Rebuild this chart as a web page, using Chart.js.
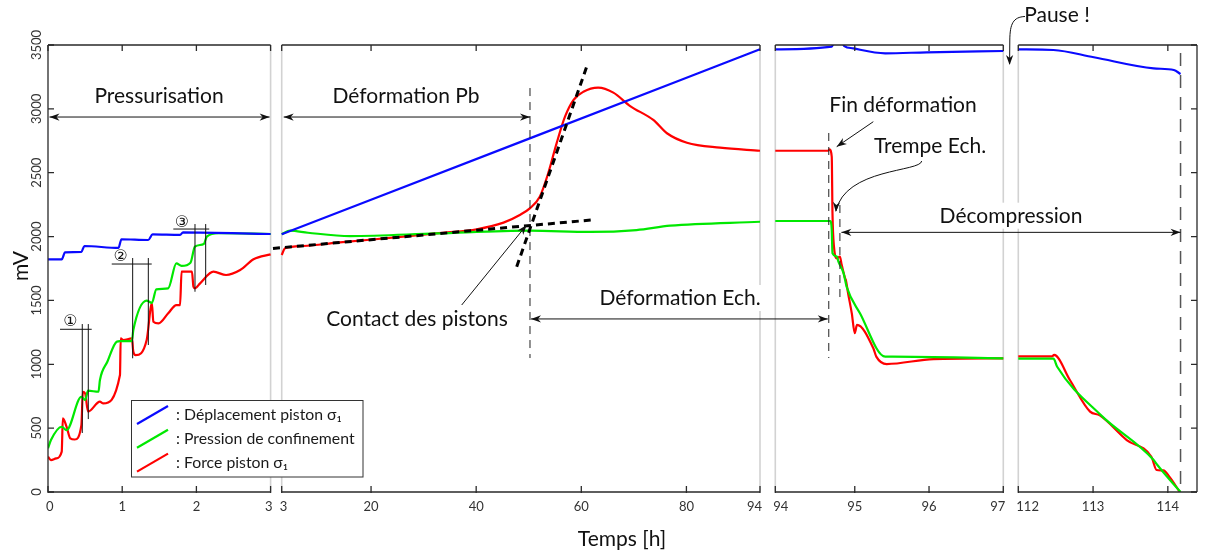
<!DOCTYPE html>
<html>
<head>
<meta charset="utf-8">
<script src="https://cdn.jsdelivr.net/npm/chart.js@4.4.0/dist/chart.umd.min.js"></script>
<style>
  html, body { margin: 0; background: #fff; }
  canvas { display: block; }
</style>
</head>
<body>
<canvas id="graphe" width="1206" height="554"></canvas>
<script>
// axe vertical (mV) et axe du temps coupé en 4 morceaux
const ticksMv = [0, 500, 1000, 1500, 2000, 2500, 3000, 3500];
const bornesHeures = [[0, 3], [3, 94], [93.93, 97], [112, 114.39]];
const ticksHeures = [[0, 1, 2, 3], [3, 20, 40, 60, 80, 94], [93.93, 95, 96, 97], [112, 113, 114]];
const etiquettesHeures = [['0', '1', '2', '3'], ['3', '20', '40', '60', '80', '94'], ['94', '95', '96', '97'], ['112', '113', '114']];

// [temps h, mV], un tableau par morceau
const deplacement = [
  [[0, 1822], [0.185, 1822], [0.23, 1877], [0.45, 1880], [0.49, 1926], [0.95, 1911], [0.99, 1979], [1.35, 1973],
   [1.41, 2017], [1.78, 2013], [1.82, 2033], [3, 2020]],
  [[3, 2018], [50.2, 2769], [94, 3466]],
  [[93.93, 3466], [94.69, 3487], [94.72, 3515], [94.83, 3515], [94.86, 3492], [94.98, 3474], [95.41, 3435],
   [95.97, 3443], [97, 3453]],
  [[112, 3466], [112.47, 3461], [113.01, 3404], [113.81, 3317], [114.08, 3304], [114.17, 3273]]
];
const confinement = [
  [[0, 342], [0.04, 407], [0.185, 511], [0.25, 485], [0.45, 746], [0.5, 720], [0.54, 793], [0.68, 785], [0.7, 877],
   [0.8, 1020], [0.925, 1177], [0.97, 1182], [1.13, 1182], [1.15, 1268], [1.33, 1498], [1.4, 1481], [1.46, 1587],
   [1.62, 1595], [1.73, 1790], [1.8, 1770], [1.92, 1795], [1.98, 1921], [2.1, 1942], [2.14, 1999], [2.3, 2026], [3, 2020]],
  [[3, 2018], [4.6, 2046], [8, 2030], [16, 2004], [32.5, 2025], [50.2, 2046], [61.7, 2036], [70.5, 2051],
   [76.9, 2085], [94, 2116]],
  [[93.93, 2122], [94.67, 2122], [94.69, 2051], [94.70, 1869], [94.76, 1843], [94.78, 1804], [94.85, 1712],
   [94.89, 1608], [95.07, 1399], [95.41, 1060], [95.51, 1060], [97, 1047]],
  [[112, 1044], [112.47, 1044], [112.52, 981], [113.1, 604], [113.81, 251], [113.86, 211], [114.17, 0]]
];
const force = [
  [[0, 276], [0.04, 250], [0.11, 263], [0.185, 316], [0.2, 577], [0.25, 511], [0.3, 420], [0.36, 411], [0.45, 524],
   [0.47, 785], [0.5, 772], [0.54, 629], [0.7, 707], [0.745, 694], [0.97, 916], [0.98, 1203], [1.015, 1190],
   [1.13, 1203], [1.15, 1098], [1.18, 1072], [1.33, 1190], [1.4, 1477], [1.42, 1333], [1.49, 1320], [1.62, 1399],
   [1.73, 1464], [1.78, 1464], [1.8, 1725], [1.94, 1725], [1.96, 1608], [1.98, 1595], [2.05, 1634], [2.23, 1725],
   [2.4, 1699], [2.59, 1738], [2.77, 1822], [3, 1861]],
  [[3, 1856], [3.63, 1908], [7.1, 1926], [13.5, 1952], [26.1, 1999], [33.7, 2030], [40.1, 2057], [45.2, 2109],
   [48.3, 2169], [50.2, 2221], [52.1, 2312], [53.7, 2495], [55.3, 2730], [56.9, 2939], [58.5, 3069], [60.4, 3134],
   [63.2, 3166], [66.1, 3127], [69.3, 3022], [73.7, 2913], [76.3, 2809], [80.1, 2735], [86.4, 2696], [94, 2672]],
  [[93.93, 2672], [94.64, 2672], [94.66, 2682], [94.69, 2625], [94.70, 2182], [94.72, 1921], [94.76, 1830],
   [94.80, 1843], [94.82, 1790], [94.87, 1673], [94.88, 1660], [94.91, 1556], [94.96, 1399], [95.0, 1243],
   [95.03, 1308], [95.25, 1125], [95.29, 1060], [95.43, 1002], [96.06, 1041], [97, 1047]],
  [[112, 1062], [112.45, 1062], [112.48, 1073], [112.69, 877], [112.96, 629], [113.09, 600], [113.45, 407],
   [113.78, 276], [113.85, 172], [113.94, 169], [114.02, 120], [114.16, 0]]
];

// position horizontale de chaque morceau (en px depuis le bord gauche du graphe)
const debuts = [0, 233.7, 727.3, 970.3];
const largeurs = [222.6, 478.3, 228, 178.7];
const FONT = 'Lato, "Open Sans", sans-serif';

function versV(p, h) {
  const [a, b] = bornesHeures[p];
  return debuts[p] + (h - a) / (b - a) * largeurs[p];
}

function serie(morceaux) {
  const out = [];
  morceaux.forEach((pts, p) => {
    if (p > 0) out.push({ x: debuts[p] - 2, y: null });
    pts.forEach(([h, v]) => out.push({ x: versV(p, h), y: v }));
  });
  return out;
}

function pointe(ctx, x1, y1, x2, y2) {
  const a = Math.atan2(y2 - y1, x2 - x1);
  ctx.save();
  ctx.translate(x2, y2);
  ctx.rotate(a);
  ctx.beginPath();
  ctx.moveTo(0, 0);
  ctx.lineTo(-10, -3.6);
  ctx.lineTo(-7, 0);
  ctx.lineTo(-10, 3.6);
  ctx.closePath();
  ctx.fill();
  ctx.restore();
}

function fleche(ctx, x1, y1, x2, y2, double) {
  ctx.beginPath();
  ctx.moveTo(x1, y1);
  ctx.lineTo(x2, y2);
  ctx.stroke();
  pointe(ctx, x1, y1, x2, y2);
  if (double) pointe(ctx, x2, y2, x1, y1);
}

function texte(ctx, t, x, y, fond) {
  ctx.font = '21px ' + FONT;
  ctx.textAlign = 'center';
  ctx.textBaseline = 'alphabetic';
  if (fond) {
    const w = ctx.measureText(t).width;
    ctx.fillStyle = '#fff';
    ctx.fillRect(x - w / 2 - 2, y - 20, w + 4, 26);
  }
  ctx.fillStyle = '#111';
  ctx.fillText(t, x, y);
}

const decor = {
  id: 'decor',
  beforeDatasetsDraw(chart) {
    const { ctx, chartArea: ca, scales: { x } } = chart;
    ctx.save();
    ctx.strokeStyle = '#d2d2d2';
    ctx.lineWidth = 1.6;
    for (let p = 0; p < 4; p++) {
      const xs = [];
      if (p > 0) xs.push(x.getPixelForValue(versV(p, bornesHeures[p][0])));
      if (p < 3) xs.push(x.getPixelForValue(versV(p, bornesHeures[p][1])));
      xs.forEach(xx => {
        ctx.beginPath();
        ctx.moveTo(xx, ca.top);
        ctx.lineTo(xx, ca.bottom);
        ctx.stroke();
      });
    }
    ctx.restore();
  },
  afterDatasetsDraw(chart) {
    const { ctx, chartArea: ca, scales: { x, y } } = chart;
    const px = (p, h) => x.getPixelForValue(versV(p, h));
    const py = v => y.getPixelForValue(v);
    ctx.save();

    // cadre et graduations
    ctx.strokeStyle = '#2a2a2a';
    ctx.lineWidth = 1.3;
    ctx.fillStyle = '#333';
    ctx.font = '13px ' + FONT;
    ctx.textBaseline = 'alphabetic';
    ctx.textAlign = 'center';
    for (let p = 0; p < 4; p++) {
      const xl = px(p, bornesHeures[p][0]), xr = px(p, bornesHeures[p][1]);
      ctx.beginPath();
      ctx.moveTo(xl, ca.bottom); ctx.lineTo(xr, ca.bottom);
      ctx.moveTo(xl, ca.top); ctx.lineTo(xr, ca.top);
      ticksHeures[p].forEach(h => {
        const xx = px(p, h);
        ctx.moveTo(xx, ca.bottom + 1); ctx.lineTo(xx, ca.bottom - 6);
        ctx.moveTo(xx, ca.top); ctx.lineTo(xx, ca.top + 6);
      });
      ctx.stroke();
      ticksHeures[p].forEach((h, i) => {
        const lab = etiquettesHeures[p][i];
        const w = ctx.measureText(lab).width;
        let xx = px(p, h);
        xx = Math.max(xx, xl - 2 + w / 2);
        xx = Math.min(xx, xr + 2 - w / 2);
        ctx.fillText(lab, xx, ca.bottom + 19);
      });
    }
    ctx.beginPath();
    ctx.moveTo(ca.left, ca.top); ctx.lineTo(ca.left, ca.bottom);
    ctx.moveTo(ca.right, ca.top); ctx.lineTo(ca.right, ca.bottom);
    ticksMv.forEach(v => {
      ctx.moveTo(ca.left, py(v)); ctx.lineTo(ca.left + 6, py(v));
      ctx.moveTo(ca.right, py(v)); ctx.lineTo(ca.right - 6, py(v));
    });
    ctx.stroke();
    ticksMv.forEach(v => {
      ctx.save();
      ctx.translate(ca.left - 7, py(v));
      ctx.rotate(-Math.PI / 2);
      ctx.textBaseline = 'alphabetic';
      ctx.fillText(String(v), 0, 0);
      ctx.restore();
    });

    // titres des axes
    ctx.fillStyle = '#111';
    ctx.font = '21px ' + FONT;
    ctx.fillText('Temps [h]', 622, 546);
    ctx.save();
    ctx.translate(28, 266);
    ctx.rotate(-Math.PI / 2);
    ctx.fillText('mV', 0, 0);
    ctx.restore();

    // repères ①②③ de la pressurisation
    const reperes = [
      { t: '①', h: 0.303, v: 1333, ligne: [0.162, 0.589, 1274], vert: [[0.462, 1315, 462], [0.543, 1315, 571]] },
      { t: '②', h: 0.981, v: 1842, ligne: [0.859, 1.398, 1785], vert: [[1.141, 1832, 1047], [1.352, 1832, 1151]] },
      { t: '③', h: 1.806, v: 2110, ligne: [1.689, 2.173, 2059], vert: [[1.981, 2098, 1568], [2.125, 2098, 1621]] }
    ];
    ctx.strokeStyle = '#111';
    ctx.lineWidth = 1;
    reperes.forEach(r => {
      ctx.beginPath();
      ctx.moveTo(px(0, r.ligne[0]), py(r.ligne[2]));
      ctx.lineTo(px(0, r.ligne[1]), py(r.ligne[2]));
      r.vert.forEach(([h, v1, v2]) => {
        ctx.moveTo(px(0, h), py(v1));
        ctx.lineTo(px(0, h), py(v2));
      });
      ctx.stroke();
      ctx.font = '16px "DejaVu Sans"';
      ctx.textBaseline = 'middle';
      ctx.fillStyle = '#111';
      ctx.fillText(r.t, px(0, r.h), py(r.v));
    });

    // tirets verticaux
    const tirets = [
      { p: 1, h: 50.24, v1: 3163, v2: 1049, d: [8, 6], w: 1, c: '#222' },
      { p: 2, h: 94.65, v1: 2811, v2: 1049, d: [8, 6], w: 1, c: '#222' },
      { p: 2, h: 94.80, v1: 2247, v2: 1503, d: [8, 6], w: 1, c: '#222' },
      { p: 3, h: 114.17, v1: 3437, v2: 0, d: [13, 9], w: 1.5, c: '#555' }
    ];
    tirets.forEach(t => {
      ctx.setLineDash(t.d);
      ctx.lineWidth = t.w;
      ctx.strokeStyle = t.c;
      ctx.beginPath();
      ctx.moveTo(px(t.p, t.h), py(t.v1));
      ctx.lineTo(px(t.p, t.h), py(t.v2));
      ctx.stroke();
    });

    // tangentes (contact des pistons)
    ctx.setLineDash([7, 5]);
    ctx.lineWidth = 3;
    ctx.strokeStyle = '#000';
    ctx.beginPath();
    ctx.moveTo(px(1, 1.34), py(1907)); ctx.lineTo(px(1, 61.98), py(2130));
    ctx.moveTo(px(1, 47.71), py(1764)); ctx.lineTo(px(1, 61.03), py(3330));
    ctx.stroke();
    ctx.setLineDash([]);

    // annotations
    ctx.lineWidth = 1;
    ctx.strokeStyle = '#111';
    ctx.fillStyle = '#111';
    const yPb = py(2936);
    fleche(ctx, px(0, 0.02), yPb, px(0, 3) - 1, yPb, true);
    fleche(ctx, px(1, 3) + 2, yPb, px(1, 50.24), yPb, true);
    const yEch = py(1355);
    fleche(ctx, px(1, 50.24) + 1, yEch, px(2, 94.65) - 1, yEch, true);
    const yDec = py(2033);
    fleche(ctx, px(2, 94.82), yDec, px(3, 114.17), yDec, true);
    fleche(ctx, 461.7, 305, px(1, 49.61), py(2091), false);
    fleche(ctx, 873.3, 121.7, 836.7, 146.7, false);

    ctx.beginPath();
    ctx.moveTo(921.7, 161);
    ctx.bezierCurveTo(921, 172, 845, 168, 836, 211);
    ctx.stroke();
    pointe(ctx, 836.3, 205, 835.8, 212);

    ctx.beginPath();
    ctx.moveTo(1025, 16.5);
    ctx.bezierCurveTo(1013, 17, 1010, 24, 1009.8, 40);
    ctx.lineTo(1009.6, 64);
    ctx.stroke();
    pointe(ctx, 1009.6, 55, 1009.6, 65);

    texte(ctx, 'Pressurisation', 159, 103.3);
    texte(ctx, 'Déformation Pb', 406, 102.7);
    texte(ctx, 'Contact des pistons', 417, 326);
    texte(ctx, 'Déformation Ech.', 680, 305, true);
    texte(ctx, 'Fin déformation', 903, 111.7);
    texte(ctx, 'Trempe Ech.', 930, 152.7);
    texte(ctx, 'Décompression', 1011, 222.7, true);
    texte(ctx, 'Pause !', 1057, 21.7);

    // légende
    const lx = 131.5, ly = 400.5;
    ctx.fillStyle = '#fff';
    ctx.fillRect(lx, ly, 231.5, 76.5);
    ctx.strokeStyle = '#333';
    ctx.lineWidth = 1;
    ctx.strokeRect(lx, ly, 231.5, 76.5);
    ctx.font = '15.8px ' + FONT;
    ctx.textAlign = 'left';
    ctx.textBaseline = 'alphabetic';
    chart.data.datasets.forEach((ds, i) => {
      const yb = 420 + i * 23.8;
      ctx.strokeStyle = ds.borderColor;
      ctx.lineWidth = 2.2;
      ctx.beginPath();
      ctx.moveTo(137, yb + 4);
      ctx.lineTo(168, yb - 14);
      ctx.stroke();
      ctx.fillStyle = '#1a1a1a';
      ctx.fillText(': ' + ds.label, 176, yb);
    });
    ctx.restore();
  }
};

const ligne = (label, couleur, morceaux) => ({
  label: label,
  data: serie(morceaux),
  borderColor: couleur,
  borderWidth: 2.2,
  pointRadius: 0,
  cubicInterpolationMode: 'monotone',
  spanGaps: false
});

new Chart(document.getElementById('graphe'), {
  type: 'line',
  data: {
    datasets: [
      ligne('Déplacement piston σ₁', '#0a0aff', deplacement),
      ligne('Pression de confinement', '#00e800', confinement),
      ligne('Force piston σ₁', '#ff0000', force)
    ]
  },
  options: {
    responsive: false,
    animation: false,
    layout: { padding: { left: 48, right: 9, top: 45, bottom: 62 } },
    scales: {
      x: { type: 'linear', min: 0, max: 1149, display: false },
      y: { min: 0, max: 3500, display: false }
    },
    plugins: { legend: { display: false }, tooltip: { enabled: false } }
  },
  plugins: [decor]
});
</script>
</body>
</html>
